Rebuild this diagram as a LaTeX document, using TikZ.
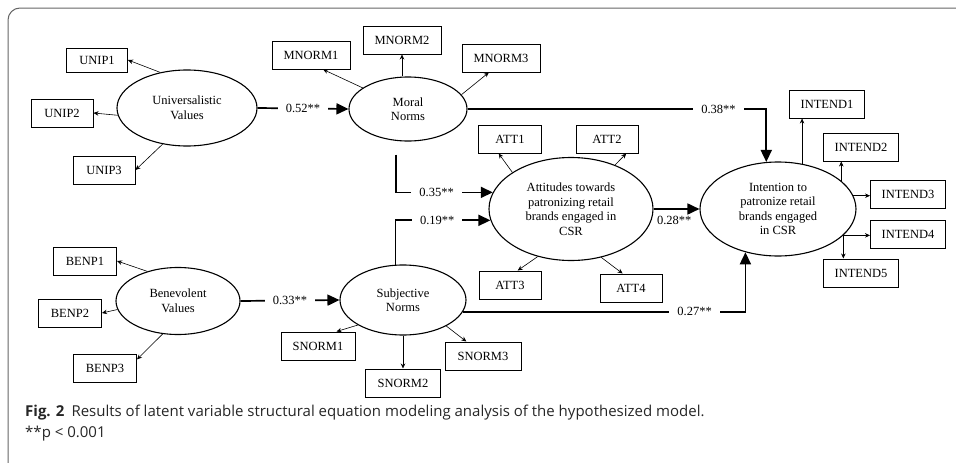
\documentclass[tikz,border=0pt]{standalone}
\usepackage{fontspec}
\setmainfont{Liberation Serif}
\newfontfamily\capfont{Open Sans}
\usetikzlibrary{shapes.geometric,arrows.meta,calc}
\begin{document}
\begin{tikzpicture}[x=1pt,y=-1pt,
  lat/.style={ellipse, draw, line width=1.1pt, inner sep=0pt, align=center, font=\fontsize{12.5}{14.5}\selectfont},
  obs/.style={rectangle, draw, line width=1pt, inner sep=0pt, minimum height=28pt, font=\fontsize{12.5}{14}\selectfont},
  ld/.style={-{Stealth[length=5pt,width=4.5pt]}, line width=0.6pt},
  pth/.style={-{Triangle[length=12pt,width=11pt]}, line width=1.7pt},
  coef/.style={fill=white, inner xsep=8pt, inner ysep=2pt, font=\fontsize{12.5}{14}\selectfont},
  captext/.style={anchor=base west, inner sep=0pt, text=black!85, font=\capfont\fontsize{15}{18}\selectfont}
]
\useasboundingbox (0,0) rectangle (956,463);
\draw[line width=1pt, black!60, rounded corners=12pt] (8,463) -- (8,8) -- (956,8);

% latent variables
\node[lat, minimum width=140pt, minimum height=76pt] (univ) at (187,108) {Universalistic\\Values};
\node[lat, minimum width=118pt, minimum height=64pt] (moral) at (408,109) {Moral\\Norms};
\node[lat, minimum width=164pt, minimum height=103pt] (att) at (571,209) {Attitudes towards\\patronizing retail\\brands engaged in\\CSR};
\node[lat, minimum width=156pt, minimum height=94pt] (int) at (778,209) {Intention to\\patronize retail\\brands engaged\\in CSR};
\node[lat, minimum width=124pt, minimum height=67pt] (ben) at (178,301) {Benevolent\\Values};
\node[lat, minimum width=126pt, minimum height=70pt] (subj) at (403,300) {Subjective\\Norms};

% indicators
\node[obs, minimum width=61pt, minimum height=24pt] (unip1) at (97,60) {UNIP1};
\node[obs, minimum width=62pt] (unip2) at (62,113) {UNIP2};
\node[obs, minimum width=62pt] (unip3) at (104,170) {UNIP3};
\node[obs, minimum width=78pt] (mnorm1) at (311,55) {MNORM1};
\node[obs, minimum width=78pt] (mnorm2) at (402,40) {MNORM2};
\node[obs, minimum width=78pt] (mnorm3) at (501,58) {MNORM3};
\node[obs, minimum width=63pt] (att1) at (510,139) {ATT1};
\node[obs, minimum width=62pt] (att2) at (607,139) {ATT2};
\node[obs, minimum width=62pt] (att3) at (510,285) {ATT3};
\node[obs, minimum width=62pt] (att4) at (631,288) {ATT4};
\node[obs, minimum width=75pt] (intend1) at (827,104) {INTEND1};
\node[obs, minimum width=75pt] (intend2) at (861,147) {INTEND2};
\node[obs, minimum width=75pt] (intend3) at (908,194) {INTEND3};
\node[obs, minimum width=75pt] (intend4) at (908,234) {INTEND4};
\node[obs, minimum width=75pt] (intend5) at (861,273) {INTEND5};
\node[obs, minimum width=63pt] (benp1) at (85,261) {BENP1};
\node[obs, minimum width=63pt] (benp2) at (70,313) {BENP2};
\node[obs, minimum width=63pt] (benp3) at (105,368) {BENP3};
\node[obs, minimum width=74pt] (snorm1) at (318,346) {SNORM1};
\node[obs, minimum width=75pt] (snorm2) at (403,383) {SNORM2};
\node[obs, minimum width=76pt] (snorm3) at (483,356) {SNORM3};

% loadings
\draw[ld] (univ.127) -- (unip1.east);
\draw[ld] (univ.186) -- (unip2.east);
\draw[ld] (univ.236) -- (unip3.east);
\draw[ld] (moral.155) -- (mnorm1.-50);
\draw[ld] (mnorm2.south |- moral.north) -- (mnorm2.south);
\draw[ld] (moral.15) -- (mnorm3.230);
\draw[ld] (att.148) -- (att1.232);
\draw[ld] (att.45) -- (att2.-37);
\draw[ld] (att.235) -- (att3.62);
\draw[ld] (att.-58) -- (att4.120);
\draw[ld] (int.62) -- (int.62 |- intend1.south);
\draw[ld] (int.24) -- (int.24 |- intend2.south);
\draw[ld] (int.10) -- (int.10 -| intend3.west);
\draw[ld] (int.-22) -- (int.-22 -| intend4.west);
\draw[ld] (int.-22) -- (int.-22 |- intend5.north);
\draw[ld] (ben.136) -- (benp1.east);
\draw[ld] (ben.188) -- (benp2.east);
\draw[ld] (ben.245) -- (benp3.15);
\draw[ld] (subj.209) -- (snorm1.38);
\draw[ld] (subj.south) -- (snorm2.north);
\draw[ld] (subj.-31) -- (snorm3.139);

% structural paths
\coordinate (mstart) at ($(moral.south)+(-12,13)$);
\draw[pth] (univ.east) -- node[coef] {0.52**} (moral.west);
\draw[pth] (ben.east) -- node[coef] {0.33**} (subj.west);
\draw[pth] (moral.east) -| node[coef, pos=0.42] {0.38**} (int.104);
\draw[pth] (mstart) |- node[coef, pos=0.71] {0.35**} (att.168);
\draw[pth] (subj.102) |- node[coef, pos=0.72] {0.19**} (att.188);
\draw[pth] (att.east) -- node[below=6pt, pos=0.45, inner sep=0pt, font=\fontsize{12.5}{14}\selectfont] {0.28**} (int.west);
\draw[pth] (subj.-11) -| node[coef, pos=0.41] {0.27**} (int.233);

% caption
\node[captext] (cap1) at (25,416) {\textbf{Fig. 2}\hspace{7pt}Results of latent variable structural equation modeling analysis of the hypothesized model.};
\node[captext] (cap2) at (25,437) {**p < 0.001};
\end{tikzpicture}
\end{document}
